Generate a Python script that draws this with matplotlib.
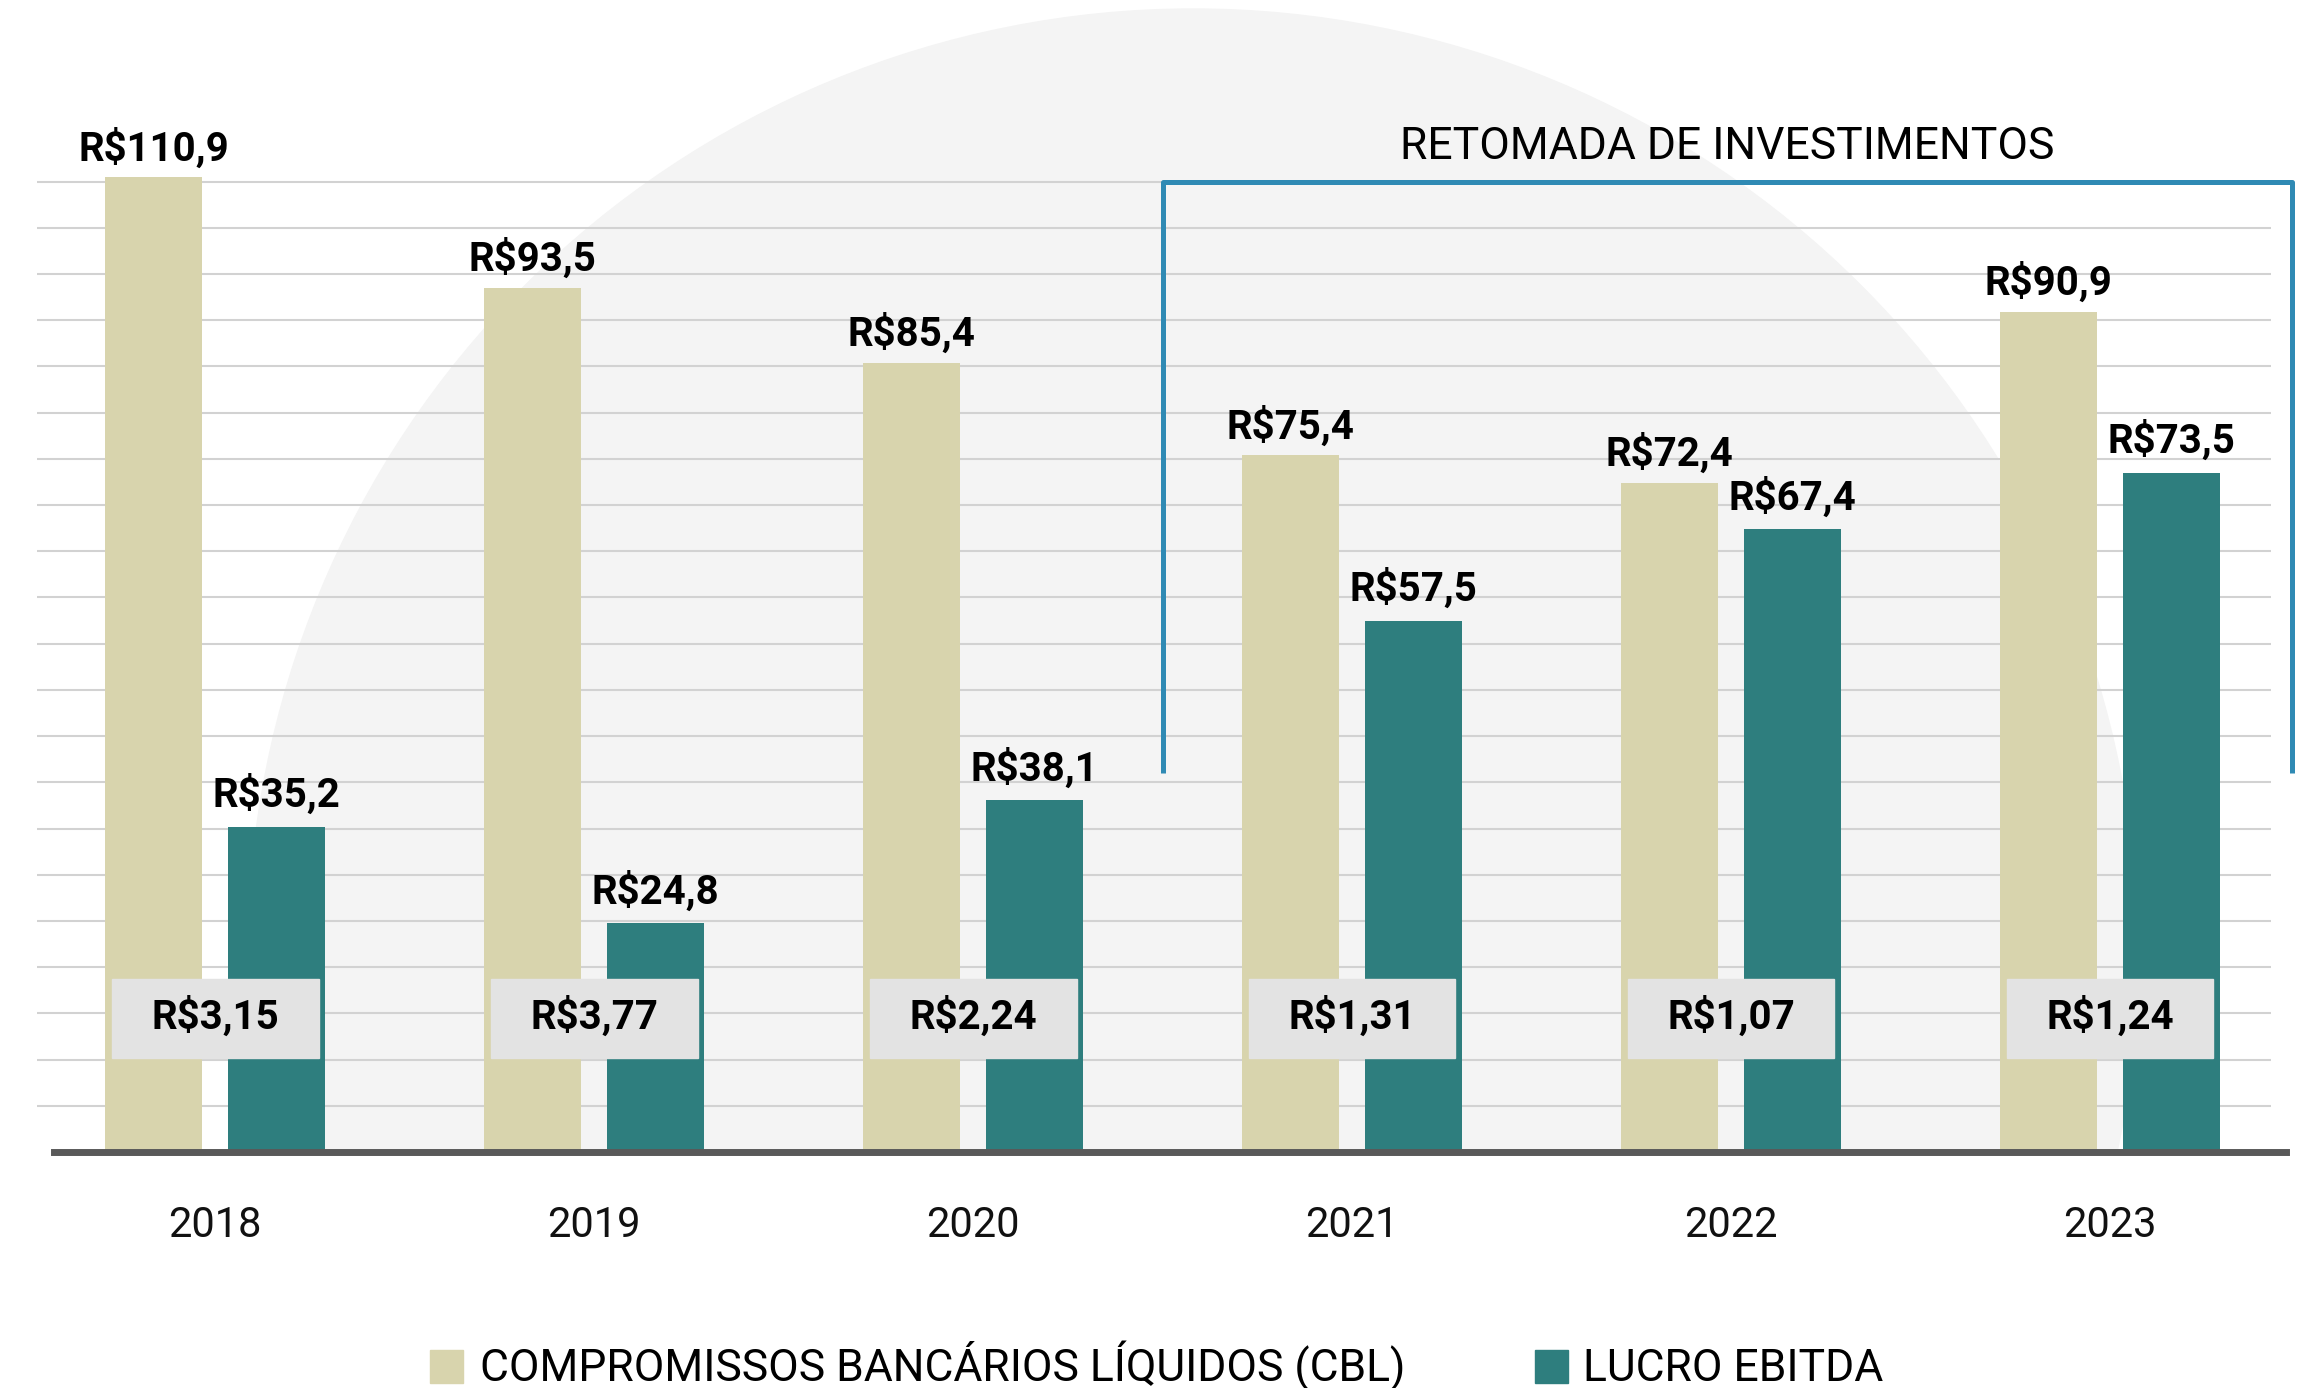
import numpy as np
import matplotlib
matplotlib.use("Agg")
import matplotlib.pyplot as plt
from matplotlib.patches import Circle, Rectangle

anos = ["2018", "2019", "2020", "2021", "2022", "2023"]
cbl = [110.9, 93.5, 85.4, 75.4, 72.4, 90.9]
ebitda = [35.2, 24.8, 38.1, 57.5, 67.4, 73.5]
razao = ["3,15", "3,77", "2,24", "1,31", "1,07", "1,24"]
series = ["COMPROMISSOS BANCÁRIOS LÍQUIDOS (CBL)", "LUCRO EBITDA"]

cor_cbl = "#d8d4ad"
cor_ebitda = "#2e7e7e"
cor_chave = "#2f8ab4"

plt.rcParams['font.family'] = ['Roboto', 'DejaVu Sans']

fig = plt.figure(figsize=(23, 13.88), dpi=100)
ax = fig.add_axes([0.0161, 0.1700, 0.9713, 0.7025])
ax.patch.set_alpha(0)

x = np.arange(len(anos))
w = 0.256
desl = 0.162
ytopo = 105.5

# circulo cinza de fundo (cortado na linha de base)
circ = Circle((11.93, 4.34), 9.45, transform=fig.dpi_scale_trans,
              color="#f4f4f4", zorder=0)
ax.add_patch(circ)
circ.set_clip_path(Rectangle((0, 0.17), 1, 0.83, transform=fig.transFigure))

# grade
ax.set_yticks(np.arange(5, 106, 5))
ax.yaxis.grid(True, color="#d2d2d2", lw=1.5)
ax.set_axisbelow(True)
ax.tick_params(axis="y", length=0, labelleft=False)

ax.bar(x - desl, cbl, w, color=cor_cbl, zorder=2)
ax.bar(x + desl, ebitda, w, color=cor_ebitda, zorder=2)

def fmt(v):
    return ("R$%.1f" % v).replace(".", ",")

for xi, v in zip(x - desl, cbl):
    ax.annotate(fmt(v), (xi, min(v, ytopo)), xytext=(0, 12), textcoords="offset points",
                ha="center", va="baseline", fontsize=29, fontweight="bold",
                annotation_clip=False)
for xi, v in zip(x + desl, ebitda):
    ax.annotate(fmt(v), (xi, v), xytext=(0, 14), textcoords="offset points",
                ha="center", va="baseline", fontsize=29, fontweight="bold",
                annotation_clip=False)

# caixas com a razao CBL/EBITDA
for xi, r in zip(x, razao):
    ax.add_patch(Rectangle((xi - 0.273, 10.17), 0.546, 8.55, color="#e3e3e3", zorder=3))
    ax.text(xi, 13.3, "R$" + r, ha="center", va="baseline", fontsize=29,
            fontweight="bold", zorder=4)

# linha de base
ax.axhline(0, xmin=0.0076, xmax=1.0067, color="#595959", lw=5, clip_on=False, zorder=5)

ax.set_xticks(x, anos)
ax.tick_params(axis="x", length=0, pad=38, labelsize=30, labelcolor="#111111")

# chave "retomada de investimentos"
ax.plot([2.5, 2.5, 5.48, 5.48], [41, 105, 105, 41], color=cor_chave, lw=3.6,
        solid_joinstyle="round", solid_capstyle="butt", clip_on=False, zorder=5)
ax.text(3.99, 107.4, "RETOMADA DE INVESTIMENTOS", ha="center", va="baseline",
        fontsize=32, color="black")

for s in ax.spines.values():
    s.set_visible(False)
ax.set_xlim(-0.470, 5.425)
ax.set_ylim(0, ytopo)

# legenda
for xq, xt, cor, nome in [(430, 480, cor_cbl, series[0]), (1535, 1583, cor_ebitda, series[1])]:
    fig.patches.append(Rectangle((xq / 2300, 1 - 1383 / 1388), 33 / 2300, 33 / 1388,
                                 transform=fig.transFigure, color=cor))
    fig.text(xt / 2300, 1 - 1381 / 1388, nome, fontsize=32, va="baseline", color="black")

fig.savefig("out.png", dpi=100)
